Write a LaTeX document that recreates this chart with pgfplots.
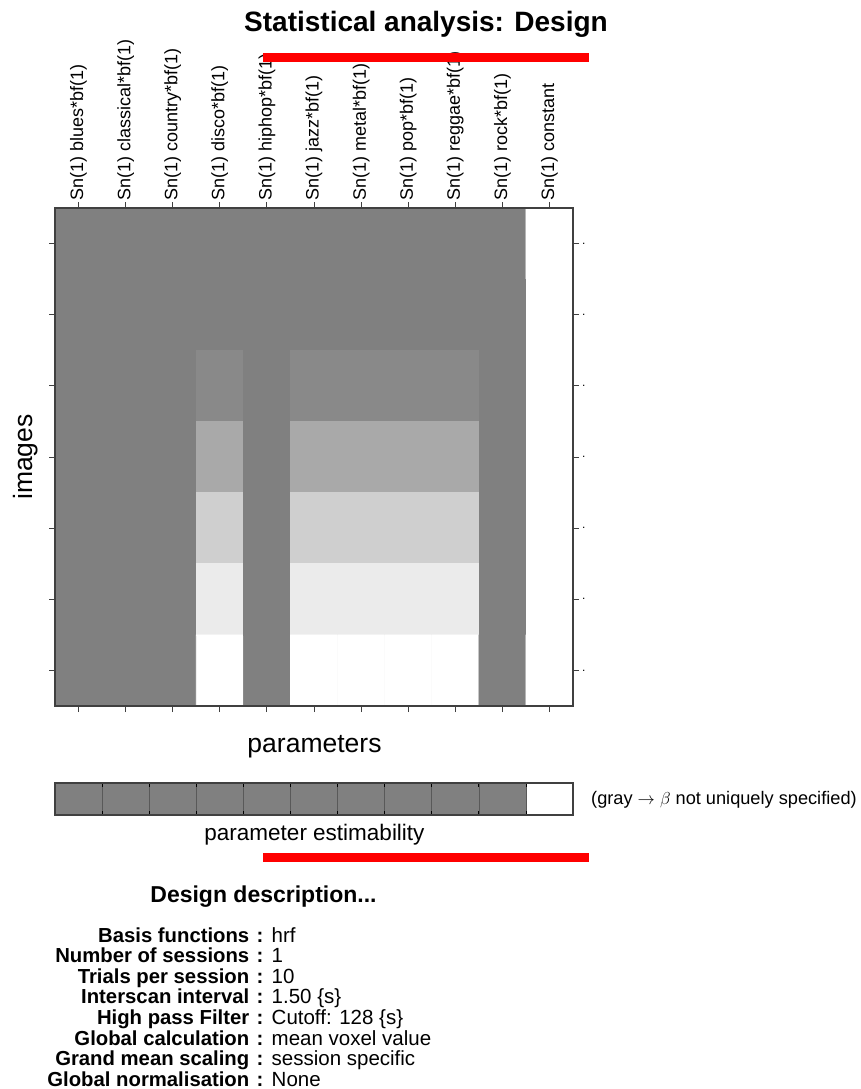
\documentclass[border=0pt]{standalone}
\usepackage{pgfplots}
\pgfplotsset{compat=1.18}
\usepackage{fontspec}
\setmainfont{Liberation Sans}

\definecolor{frame}{gray}{0.25}
\definecolor{midgray}{gray}{0.5}

\newcommand{\fs}[1]{\fontsize{#1}{#1}\selectfont}

\begin{document}
\begin{tikzpicture}[x=1pt,y=1pt]
\path[use as bounding box] (0,0) rectangle (860,-1089);

% design matrix: 7 images x 11 regressors, gray level 0 = black, 1 = white
\begin{axis}[
  at={(55pt,-208pt)}, anchor=north west,
  width=518pt, height=498pt, scale only axis,
  xmin=-0.5, xmax=10.5, ymin=0.5, ymax=7.5, y dir=reverse,
  colormap={bw}{gray(0cm)=(0); gray(1cm)=(1)},
  point meta min=0, point meta max=1,
  axis background/.style={fill=midgray},
  axis line style={draw=frame, line width=1.3pt},
  every tick/.style={draw=frame, line width=0.9pt},
  tick align=outside, major tick length=6pt,
  xtick={0,...,10},
  xticklabels={Sn(1) blues*bf(1), Sn(1) classical*bf(1), Sn(1) country*bf(1),
    Sn(1) disco*bf(1), Sn(1) hiphop*bf(1), Sn(1) jazz*bf(1), Sn(1) metal*bf(1),
    Sn(1) pop*bf(1), Sn(1) reggae*bf(1), Sn(1) rock*bf(1), Sn(1) constant},
  xtick pos=both, xticklabel pos=upper,
  xticklabel style={rotate=90, anchor=west, font=\fs{18}, inner sep=1pt},
  ytick={1,...,7}, yticklabels={.,.,.,.,.,.,.},
  ytick pos=both, yticklabel pos=right,
  yticklabel style={font=\fs{12}, anchor=west, inner sep=3pt},
  axis on top,
]
\addplot[matrix plot*, shader=faceted, faceted color=mapped color,
  line width=0.6pt, point meta=explicit, mesh/cols=11] table[meta=c] {
x y c
0 1 0.5
1 1 0.5
2 1 0.5
3 1 0.5
4 1 0.5
5 1 0.5
6 1 0.5
7 1 0.5
8 1 0.5
9 1 0.5
10 1 1
0 2 0.5
1 2 0.5
2 2 0.5
3 2 0.5
4 2 0.5
5 2 0.5
6 2 0.5
7 2 0.5
8 2 0.5
9 2 0.5
10 2 1
0 3 0.5
1 3 0.5
2 3 0.5
3 3 0.533
4 3 0.5
5 3 0.533
6 3 0.533
7 3 0.533
8 3 0.533
9 3 0.5
10 3 1
0 4 0.5
1 4 0.5
2 4 0.5
3 4 0.659
4 4 0.5
5 4 0.659
6 4 0.659
7 4 0.659
8 4 0.659
9 4 0.5
10 4 1
0 5 0.5
1 5 0.5
2 5 0.5
3 5 0.808
4 5 0.5
5 5 0.808
6 5 0.808
7 5 0.808
8 5 0.808
9 5 0.5
10 5 1
0 6 0.5
1 6 0.5
2 6 0.5
3 6 0.914
4 6 0.5
5 6 0.914
6 6 0.914
7 6 0.914
8 6 0.914
9 6 0.5
10 6 1
0 7 0.5
1 7 0.5
2 7 0.5
3 7 1
4 7 0.5
5 7 1
6 7 1
7 7 1
8 7 1
9 7 0.5
10 7 1
};
\end{axis}

% parameter estimability strip
\begin{axis}[
  at={(55pt,-783pt)}, anchor=north west,
  width=518pt, height=32pt, scale only axis,
  xmin=-0.5, xmax=10.5, ymin=0, ymax=1,
  axis line style={draw=frame, line width=1.3pt},
  xtick={0.5,1.5,...,9.5}, xticklabels={},
  xtick pos=both, tick align=inside, major tick length=4pt,
  every tick/.style={draw=black, line width=0.8pt},
  xmajorgrids, grid style={draw=black!65, line width=0.5pt},
  ytick=\empty,
  axis on top,
]
\addplot[ybar interval, fill=midgray, draw=none] coordinates {
  (-0.5,1) (0.5,1) (1.5,1) (2.5,1) (3.5,1) (4.5,1) (5.5,1) (6.5,1) (7.5,1) (8.5,1) (9.5,1)
};
\end{axis}

% titles and labels
\node[anchor=base, font=\bfseries\fs{28}] at (426,-32) {Statistical analysis: Design};
\draw[red, line width=9pt] (263,-58) -- (589,-58);

\node[rotate=90, font=\fs{26.5}] at (26,-457) {images};
\node[anchor=base, font=\fs{26.5}] at (314.5,-752) {parameters};

\node[anchor=west, font=\fs{18.2}, inner sep=0pt] at (591,-800) {(gray $\rightarrow$ $\beta$ not uniquely specified)};
\node[anchor=base, font=\fs{22.5}] at (314.5,-840) {parameter estimability};
\draw[red, line width=9pt] (263,-857.5) -- (589,-857.5);

% design description
\node[anchor=base, font=\bfseries\fs{23}] at (263.5,-902) {Design description...};
\foreach \k/\v [count=\i from 0] in {
  Basis functions/hrf,
  Number of sessions/1,
  Trials per session/10,
  Interscan interval/{1.50 \{s\}},
  High pass Filter/{Cutoff: 128 \{s\}},
  Global calculation/mean voxel value,
  Grand mean scaling/session specific,
  Global normalisation/None} {
  \node[anchor=base east, font=\bfseries\fs{20.3}, inner sep=0pt] at (249.5,-942-20.6*\i) {\k};
  \node[anchor=base, font=\bfseries\fs{20.3}, inner sep=0pt] at (260,-942-20.6*\i) {:};
  \node[anchor=base west, font=\fs{20.5}, inner sep=0pt] at (271.5,-942-20.6*\i) {\v};
}
\end{tikzpicture}
\end{document}
